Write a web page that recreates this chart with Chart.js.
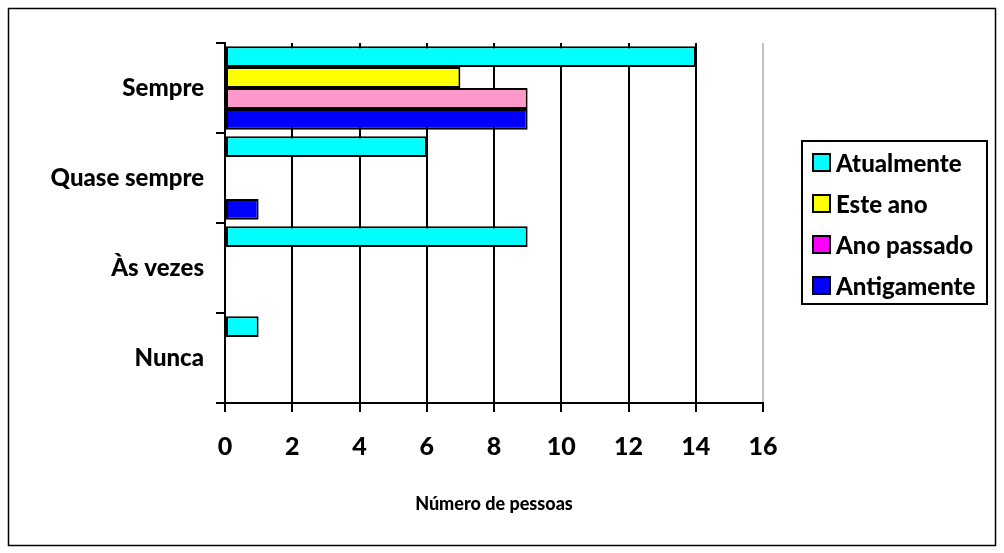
<!DOCTYPE html>
<html>
<head>
<meta charset="utf-8">
<script src="https://cdn.jsdelivr.net/npm/chart.js@4/dist/chart.umd.min.js"></script>
<style>
  body { margin: 0; background: #fff; }
  #wrap { width: 1004px; height: 553px; }
</style>
</head>
<body>
<div id="wrap"><canvas id="myChart" width="1004" height="553"></canvas></div>
<script>
// chart data
const categories = ["Sempre", "Quase sempre", "Às vezes", "Nunca"];
const seriesNames = ["Atualmente", "Este ano", "Ano passado", "Antigamente"];
const atualmente = [14, 6, 9, 1];
const esteAno = [7, 0, 0, 0];
const anoPassado = [9, 0, 0, 0];
const antigamente = [9, 1, 0, 0];
const xTicks = [0, 2, 4, 6, 8, 10, 12, 14, 16];
const xTitle = "Número de pessoas";

const FONT = "Lato";
const WEIGHT = 900;

const barColors = ["#00FFFF", "#FFFF00", "#FF99CC", "#0000FF"];
const legendColors = ["#00FFFF", "#FFFF00", "#FF00FF", "#0000FF"];

const values = [atualmente, esteAno, anoPassado, antigamente];

const data = {
  labels: categories,
  datasets: seriesNames.map((name, i) => ({
    label: name,
    data: values[i],
    backgroundColor: barColors[i],
    borderColor: "#000",
    borderWidth: 2,
    borderSkipped: false,
    legendColor: legendColors[i],
    barPercentage: 1,
    categoryPercentage: 0.93
  }))
};

/**
 * outer frame + legend box (drawn by hand to match the original)
 */
const framePlugin = {
  id: "framePlugin",
  afterDraw(chart) {
    const ctx = chart.ctx;
    ctx.save();
    ctx.strokeStyle = "#000";
    ctx.lineWidth = 1.5;
    ctx.strokeRect(8.5, 8.5, 987, 537);

    ctx.lineWidth = 2;
    ctx.strokeRect(802, 141, 185, 163);

    ctx.font = WEIGHT + " 24px " + FONT;
    ctx.textBaseline = "middle";
    ctx.textAlign = "left";
    chart.data.datasets.forEach((ds, i) => {
      let y = 163 + i * 41;
      ctx.fillStyle = ds.legendColor;
      ctx.fillRect(813, y - 9, 17, 17);
      ctx.strokeRect(813, y - 9, 17, 17);
      ctx.fillStyle = "#000";
      ctx.fillText(ds.label, 836, y + 1);
    });
    ctx.restore();
  }
};

const config = {
  type: "bar",
  data: data,
  options: {
    indexAxis: "y",
    responsive: false,
    animation: false,
    devicePixelRatio: 1,
    layout: {
      padding: { top: 43, right: 241, bottom: 0, left: 0 }
    },
    plugins: {
      legend: { display: false },
      tooltip: { enabled: false }
    },
    scales: {
      x: {
        min: 0,
        max: 16,
        afterBuildTicks: axis => { axis.ticks = xTicks.map(v => ({ value: v })); },
        afterFit: scale => { scale.height = 150; },
        grid: {
          color: ctx => (ctx.tick && ctx.tick.value === 16 ? "#C0C0C0" : "#000"),
          lineWidth: 2,
          drawTicks: true,
          tickLength: 9,
          tickColor: "#000",
          tickWidth: 2
        },
        border: { color: "#000", width: 2 },
        ticks: {
          color: "#000",
          padding: 20,
          font: { family: FONT, size: 25, weight: WEIGHT }
        },
        title: {
          display: true,
          text: xTitle,
          color: "#000",
          padding: { top: 0, bottom: 38 },
          font: { family: FONT, size: 18, weight: WEIGHT }
        }
      },
      y: {
        afterFit: scale => { scale.width = 225; },
        grid: {
          offset: true,
          drawOnChartArea: false,
          drawTicks: true,
          tickLength: 9,
          color: "#000",
          lineWidth: 2
        },
        border: { color: "#000", width: 2 },
        ticks: {
          color: "#000",
          padding: 12,
          font: { family: FONT, size: 24, weight: WEIGHT }
        }
      }
    }
  },
  plugins: [framePlugin]
};

const myChart = new Chart(document.getElementById("myChart"), config);
</script>
</body>
</html>
